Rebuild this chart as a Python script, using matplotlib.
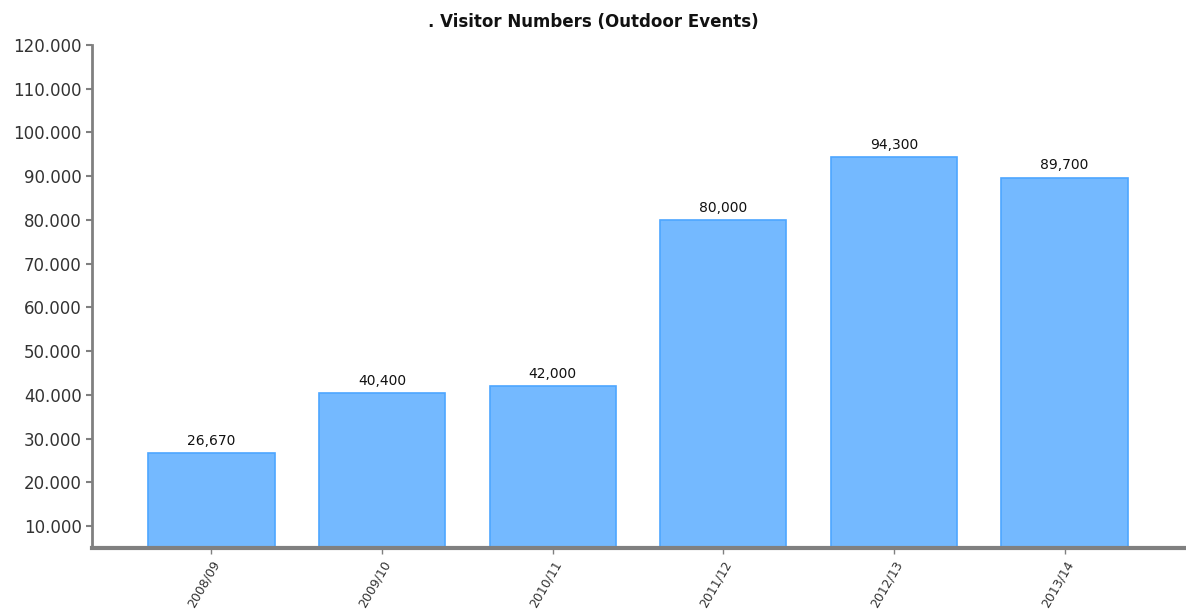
import matplotlib
matplotlib.use('Agg')
import matplotlib.pyplot as plt
from matplotlib.ticker import FuncFormatter

seasons = ['2008/09', '2009/10', '2010/11', '2011/12', '2012/13', '2013/14']
visitors = [26670, 40400, 42000, 80000, 94300, 89700]
yticks = [10000, 20000, 30000, 40000, 50000, 60000, 70000, 80000, 90000, 100000, 110000, 120000]

fig = plt.figure(figsize=(11.86, 6.12), dpi=100)
ax = fig.add_axes([92 / 1186, 1 - 548 / 612, (1184 - 92) / 1186, (548 - 45) / 612])

x = range(len(seasons))
base = 5000
ax.bar(x, [v - base for v in visitors], bottom=base, width=0.74,
       color='#74b9ff', edgecolor='#4da6ff', linewidth=1.2)
for i, v in enumerate(visitors):
    ax.text(i, v + 1200, f'{v:,}', ha='center', va='bottom', fontsize=10, color='#111111')

ax.set_xlim(-0.7, 5.7)
ax.set_ylim(base, 120000)
ax.set_yticks(yticks)
ax.yaxis.set_major_formatter(FuncFormatter(lambda v, p: f'{int(v):,}'.replace(',', '.')))
ax.set_xticks(list(x))
ax.set_xticklabels(seasons, rotation=60, ha='right', rotation_mode='anchor', fontsize=9, color='#333333')
ax.tick_params(axis='y', labelsize=12, colors='#808080', labelcolor='#333333', length=4, width=1.5)
ax.tick_params(axis='x', colors='#808080', labelcolor='#333333', length=4, width=1)

for s in ['top', 'right']:
    ax.spines[s].set_visible(False)
ax.spines['left'].set_color('#808080')
ax.spines['left'].set_linewidth(2)
ax.spines['bottom'].set_color('#808080')
ax.spines['bottom'].set_linewidth(3)

fig.text(0.5, 1 - 22 / 612, '. Visitor Numbers (Outdoor Events)', ha='center', va='center',
         fontsize=12, fontweight='bold', color='#111111')

fig.savefig('out.png', dpi=100)
